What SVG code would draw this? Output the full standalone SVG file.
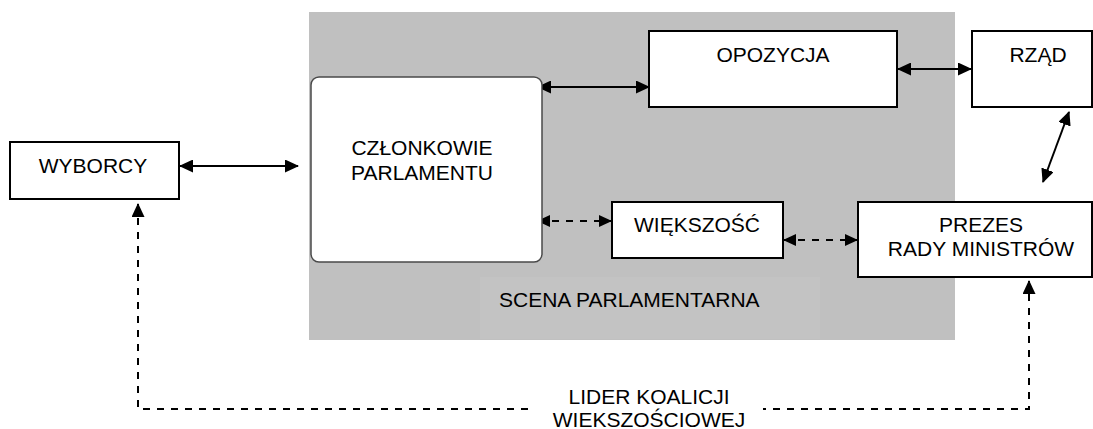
<svg xmlns="http://www.w3.org/2000/svg" width="1093" height="429" viewBox="0 0 1093 429">
<style>
.box{fill:#ffffff;stroke:#000000;stroke-width:2}
.rbox{fill:#ffffff;stroke:#4a4a4a;stroke-width:1.5}
.t{font-family:"Liberation Sans",Arial,sans-serif;font-size:21px;fill:#000000}
.c{text-anchor:middle}
.solid{fill:none;stroke:#000000;stroke-width:2;marker-start:url(#ah);marker-end:url(#ah)}
.dash{fill:none;stroke:#000000;stroke-width:2;stroke-dasharray:7 7}
</style>
<defs>
<marker id="ah" viewBox="0 0 14 13" refX="13" refY="6.5" markerWidth="14" markerHeight="13" markerUnits="userSpaceOnUse" orient="auto-start-reverse">
<path d="M0,0 L14,6.5 L0,13 z" fill="#000000"/>
</marker>
<marker id="dh" viewBox="0 0 13 12" refX="12" refY="6" markerWidth="13" markerHeight="12" markerUnits="userSpaceOnUse" orient="auto-start-reverse">
<path d="M0,0 L13,6 L0,12 z" fill="#000000"/>
</marker>
</defs>

<g id="scena">
<rect x="309" y="12" width="646" height="328" fill="#c0c0c0"/>
<rect x="480" y="277" width="340" height="62" fill="#c3c3c3"/>
<text class="t" x="499" y="307">SCENA PARLAMENTARNA</text>
</g>

<g id="connectors">
<line class="solid" x1="180" y1="166" x2="298" y2="166"/>
<line class="solid" x1="538" y1="87" x2="649" y2="87"/>
<line class="solid" x1="898" y1="69" x2="971" y2="69"/>
<line class="solid" x1="1069" y1="112" x2="1043" y2="182"/>
<line class="dash" x1="538" y1="221" x2="611" y2="221" marker-start="url(#dh)" marker-end="url(#dh)"/>
<line class="dash" x1="784" y1="240" x2="857" y2="240" marker-start="url(#dh)" marker-end="url(#dh)" stroke-dasharray="9 8"/>
<path class="dash" d="M138,204 L138,409 L1029,409 L1029,281" marker-start="url(#ah)" marker-end="url(#ah)"/>
</g>

<g id="wyborcy">
<rect class="box" x="10" y="142" width="169" height="57"/>
<text class="t c" x="93" y="173">WYBORCY</text>
</g>

<g id="czlonkowie">
<rect class="rbox" x="311" y="77" width="231" height="185" rx="8" ry="8"/>
<text class="t c" x="422" y="155">CZŁONKOWIE</text>
<text class="t c" x="422" y="180">PARLAMENTU</text>
</g>

<g id="opozycja">
<rect class="box" x="649" y="31" width="248" height="76"/>
<text class="t c" x="773" y="62">OPOZYCJA</text>
</g>

<g id="rzad">
<rect class="box" x="972" y="31" width="120" height="76"/>
<text class="t c" x="1038" y="62">RZĄD</text>
</g>

<g id="wiekszosc">
<rect class="box" x="612" y="202" width="171" height="56"/>
<text class="t c" x="697" y="232">WIĘKSZOŚĆ</text>
</g>

<g id="prezes">
<rect class="box" x="858" y="202" width="234" height="75"/>
<text class="t c" x="981" y="232">PREZES</text>
<text class="t c" x="981" y="256">RADY MINISTRÓW</text>
</g>

<g id="lider">
<rect x="534" y="386" width="229" height="43" fill="#ffffff"/>
<text class="t c" x="649" y="404">LIDER KOALICJI</text>
<text class="t c" x="649" y="427">WIEKSZOŚCIOWEJ</text>
</g>
</svg>
